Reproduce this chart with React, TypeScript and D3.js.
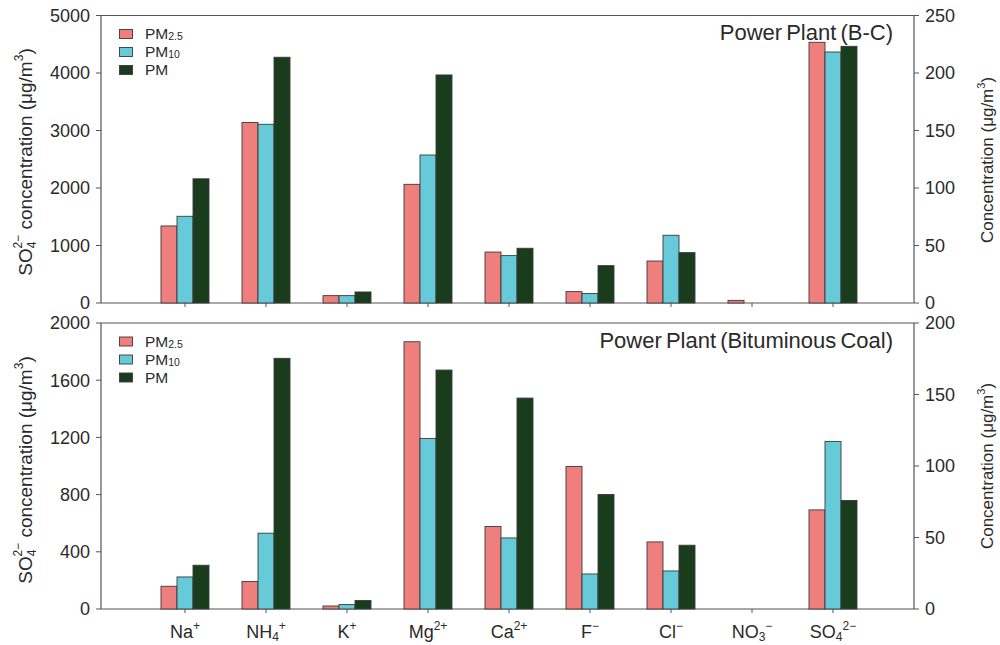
import React from "react";
import * as d3 from "d3";

const categories = ["Na", "NH4", "K", "Mg", "Ca", "F", "Cl", "NO3", "SO4"];
const catBase = ["Na", "NH", "K", "Mg", "Ca", "F", "Cl", "NO", "SO"];
const catSub = ["", "4", "", "", "", "", "", "3", "4"];
const catSup = ["+", "+", "+", "2+", "2+", "−", "−", "−", "2−"];

const seriesNames = ["PM2.5", "PM10", "PM"];
const seriesColors = ["#EF7F7C", "#66CAD9", "#183C1C"];

// Top panel: Power Plant (B-C). Last category (SO4 2-) uses left axis.
const topPM25 = [67, 157, 6.4, 103.2, 44.3, 9.9, 36.5, 2.3, 4534];
const topPM10 = [75.4, 155.4, 6.4, 128.7, 41.2, 8.2, 58.9, 0, 4365];
const topPM = [108, 213.7, 9.6, 198.3, 47.6, 32.5, 43.8, 0, 4464];
const topLeftTicks = [0, 1000, 2000, 3000, 4000, 5000];
const topRightTicks = [0, 50, 100, 150, 200, 250];

// Bottom panel: Power Plant (Bituminous Coal)
const botPM25 = [15.9, 19.2, 2.1, 186.9, 57.7, 99.7, 46.9, 0, 693];
const botPM10 = [22.4, 53, 3.1, 119.3, 49.7, 24.5, 26.6, 0, 1172];
const botPM = [30.6, 175.3, 5.9, 167.1, 147.5, 80.1, 44.6, 0, 759];
const botLeftTicks = [0, 400, 800, 1200, 1600, 2000];
const botRightTicks = [0, 50, 100, 150, 200];

const FONT = "'Liberation Sans', Arial, Helvetica, sans-serif";
const TXT = "#2a2a2a";
const AX = "#555";

const x0 = 101;
const x1 = 914;
const xScale = d3.scalePoint<string>().domain(categories).range([104, x1]).padding(1);
const barW = 16;

type PanelProps = {
  top: number;
  bottom: number;
  leftMax: number;
  rightMax: number;
  leftTicks: number[];
  rightTicks: number[];
  series: number[][];
  title: string;
  titleY: number;
  leftTitleY: number;
  rightTitleY: number;
  legendY: number;
  showXLabels: boolean;
};

function Panel(p: PanelProps) {
  const yL = d3.scaleLinear().domain([0, p.leftMax]).range([p.bottom, p.top]);
  const yR = d3.scaleLinear().domain([0, p.rightMax]).range([p.bottom, p.top]);
  const offsets = [-24, -8, 8];
  return (
    <g>
      {/* frame */}
      <line x1={x0} x2={x1} y1={p.top} y2={p.top} stroke={AX} strokeWidth={1} />
      <line x1={x0} x2={x1} y1={p.bottom} y2={p.bottom} stroke={AX} strokeWidth={1.2} />
      <line x1={x0} x2={x0} y1={p.top} y2={p.bottom} stroke={AX} strokeWidth={1.2} />
      <line x1={x1} x2={x1} y1={p.top} y2={p.bottom} stroke={AX} strokeWidth={1.2} />
      {/* bars */}
      {categories.map((c, i) =>
        p.series.map((s, k) => {
          const v = s[i];
          if (!v) return null;
          const y = i === categories.length - 1 ? yL : yR;
          const cx = xScale(c) as number;
          return (
            <rect
              key={c + k}
              x={cx + offsets[k]}
              y={y(v)}
              width={barW}
              height={p.bottom - y(v)}
              fill={seriesColors[k]}
              stroke="#3a3a3a"
              strokeWidth={0.9}
            />
          );
        })
      )}
      {/* x ticks */}
      {categories.map((c) => (
        <line key={c} x1={xScale(c)} x2={xScale(c)} y1={p.bottom} y2={p.bottom + 4} stroke={AX} />
      ))}
      {/* left ticks */}
      {p.leftTicks.map((t) => (
        <g key={"l" + t}>
          <line x1={x0 - 5} x2={x0} y1={yL(t)} y2={yL(t)} stroke={AX} />
          <text x={90} y={yL(t)} dy="0.36em" textAnchor="end" fontSize={18} fill={TXT}>
            {t}
          </text>
        </g>
      ))}
      {/* right ticks */}
      {p.rightTicks.map((t) => (
        <g key={"r" + t}>
          <line x1={x1} x2={x1 + 5} y1={yR(t)} y2={yR(t)} stroke={AX} />
          <text x={925} y={yR(t)} dy="0.36em" textAnchor="start" fontSize={18} fill={TXT}>
            {t}
          </text>
        </g>
      ))}
      {/* title */}
      <text x={893} y={p.titleY} textAnchor="end" fontSize={22} fill={TXT} wordSpacing={-2}>
        {p.title}
      </text>
      {/* legend */}
      {seriesNames.map((n, k) => (
        <g key={n}>
          <rect
            x={119.5}
            y={p.legendY + k * 18}
            width={13}
            height={9}
            fill={seriesColors[k]}
            stroke="#3a3a3a"
            strokeWidth={0.9}
          />
          <text x={145} y={p.legendY + k * 18 + 9.5} fontSize={15.5} fill={TXT}>
            PM
            {k === 0 ? (
              <tspan fontSize={10.5} dy={1}>2.5</tspan>
            ) : k === 1 ? (
              <tspan fontSize={10.5} dy={1}>10</tspan>
            ) : null}
          </text>
        </g>
      ))}
      {/* left axis title */}
      <text
        transform={`translate(32, ${p.leftTitleY}) rotate(-90)`}
        textAnchor="middle"
        fontSize={19}
        fill={TXT}
      >
        SO<tspan fontSize={12} dy={4}>4</tspan>
        <tspan fontSize={12} dx={-7} dy={-14}>2−</tspan>
        <tspan dy={10}> concentration (μg/m</tspan>
        <tspan fontSize={12} dy={-9}>3</tspan>
        <tspan dy={9}>)</tspan>
      </text>
      {/* right axis title */}
      <text
        transform={`translate(993, ${p.rightTitleY}) rotate(-90)`}
        textAnchor="middle"
        fontSize={17}
        fill={TXT}
      >
        Concentration (μg/m<tspan fontSize={11} dy={-8}>3</tspan>
        <tspan dy={8}>)</tspan>
      </text>
      {/* x labels */}
      {p.showXLabels &&
        categories.map((c, i) => (
          <text key={"x" + c} x={xScale(c)} y={638} textAnchor="middle" fontSize={18} fill={TXT}>
            {catBase[i]}
            {catSub[i] ? <tspan fontSize={12} dy={3}>{catSub[i]}</tspan> : null}
            <tspan fontSize={12} dy={catSub[i] ? -11 : -8}>{catSup[i]}</tspan>
          </text>
        ))}
    </g>
  );
}

export default function App() {
  return (
    <svg
      width={1000}
      height={645}
      style={{ position: "absolute", left: 0, top: 0, fontFamily: FONT, background: "#fff" }}
    >
      <rect x={0} y={0} width={1000} height={645} fill="#fff" />
      <Panel
        top={15.5}
        bottom={303}
        leftMax={5000}
        rightMax={250}
        leftTicks={topLeftTicks}
        rightTicks={topRightTicks}
        series={[topPM25, topPM10, topPM]}
        title="Power Plant (B-C)"
        titleY={40}
        leftTitleY={162}
        rightTitleY={160}
        legendY={29.5}
        showXLabels={false}
      />
      <Panel
        top={323}
        bottom={609}
        leftMax={2000}
        rightMax={200}
        leftTicks={botLeftTicks}
        rightTicks={botRightTicks}
        series={[botPM25, botPM10, botPM]}
        title="Power Plant (Bituminous Coal)"
        titleY={348}
        leftTitleY={470}
        rightTitleY={466}
        legendY={337}
        showXLabels={true}
      />
    </svg>
  );
}
